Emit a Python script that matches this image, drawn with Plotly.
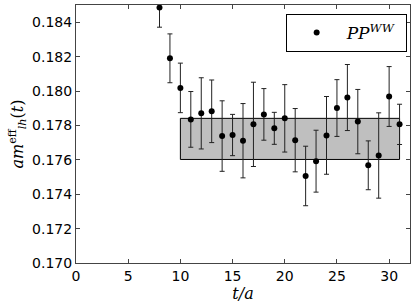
import plotly.graph_objects as go

t = [8, 9, 10, 11, 12, 13, 14, 15, 16, 17, 18, 19, 20, 21, 22, 23, 24, 25, 26, 27, 28, 29, 30, 31]
meff = [0.18485, 0.18190, 0.18018, 0.17835, 0.17870, 0.17882, 0.17738, 0.17744, 0.17711, 0.17806,
        0.17864, 0.17783, 0.17841, 0.17714, 0.17506, 0.17592, 0.17742, 0.17901, 0.17962, 0.17822,
        0.17568, 0.17625, 0.17968, 0.17806]
err = [0.00114, 0.00142, 0.00144, 0.00162, 0.00207, 0.00182, 0.00205, 0.00120, 0.00216, 0.00245,
       0.00150, 0.00093, 0.00196, 0.00184, 0.00173, 0.00180, 0.00226, 0.00165, 0.00192, 0.00187,
       0.00142, 0.00248, 0.00174, 0.00117]

band_t = [10, 31]
band_y = [0.17602, 0.17841]

x_ticks = [0, 5, 10, 15, 20, 25, 30]
y_ticks = [0.170, 0.172, 0.174, 0.176, 0.178, 0.180, 0.182, 0.184]

fig = go.Figure()
fig.add_trace(go.Scatter(
    x=t, y=meff, mode="markers",
    marker=dict(color="black", size=6),
    error_y=dict(type="data", array=err, visible=True, color="#222", thickness=1, width=2.5),
    name="<i>PP</i><sup><i>WW</i></sup>&nbsp;",
    cliponaxis=True,
))
fig.add_shape(type="rect", xref="x", yref="y",
              x0=band_t[0], x1=band_t[1], y0=band_y[0], y1=band_y[1],
              fillcolor="#bfbfbf", line=dict(color="black", width=1), layer="below")

axis_common = dict(showgrid=False, zeroline=False, showline=True, linecolor="#444", linewidth=1,
                   mirror="allticks", ticks="inside", ticklen=4, tickcolor="#444",
                   tickfont=dict(family="DejaVu Sans", size=14, color="black"))
fig.update_xaxes(range=[0, 32], tickvals=x_ticks, ticktext=[str(v) for v in x_ticks],
                 title=dict(text="<i>t/a</i>", font=dict(family="DejaVu Serif", size=16, color="black"), standoff=2),
                 **axis_common)
fig.update_yaxes(range=[0.170, 0.185], tickvals=y_ticks, ticktext=[f"{v:.3f}" for v in y_ticks],
                 title=dict(text="<i>am</i><sup>eff</sup><sub><i>lh</i></sub>(<i>t</i>)",
                            font=dict(family="DejaVu Serif", size=16, color="black"), standoff=4),
                 **axis_common)
fig.update_layout(
    width=415, height=306,
    margin=dict(l=76, r=5, t=5, b=43),
    plot_bgcolor="white", paper_bgcolor="white",
    showlegend=True,
    legend=dict(x=0.99, y=0.965, xanchor="right", yanchor="top",
                bordercolor="black", borderwidth=1, bgcolor="white",
                font=dict(family="DejaVu Serif", size=17, color="black"),
                itemwidth=50, tracegroupgap=0),
)
fig.write_html("out.html", config={"displayModeBar": False},
               post_script="document.body.style.margin='0';document.body.style.overflow='hidden';")
